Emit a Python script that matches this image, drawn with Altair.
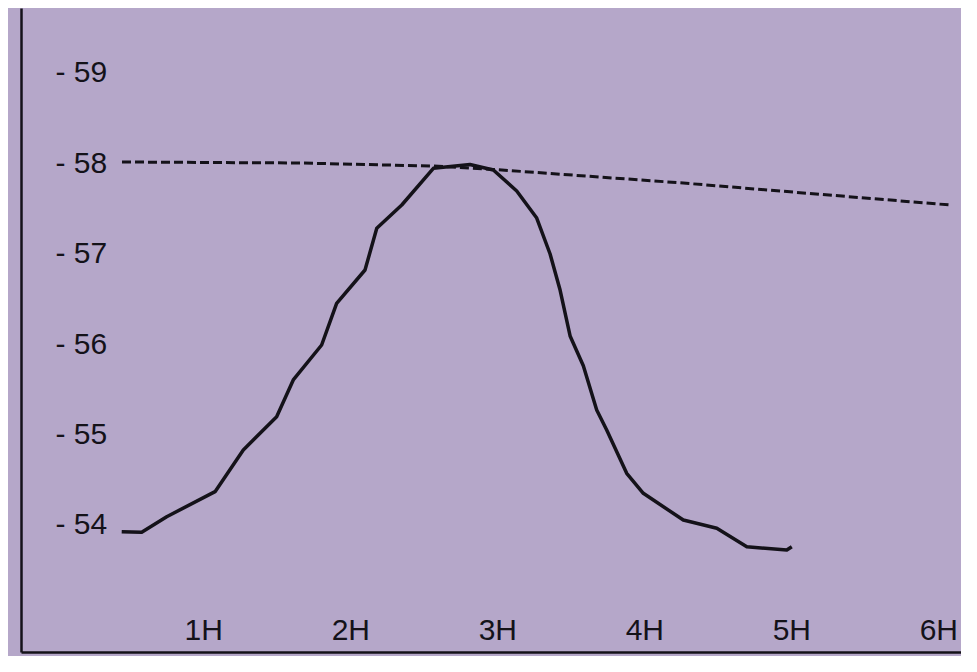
import altair as alt
import pandas as pd

# Solid curve (hours, value)
curve_h = [0.445, 0.581, 0.751, 1.080, 1.272, 1.499, 1.612, 1.805, 1.907, 2.100,
           2.180, 2.350, 2.565, 2.814, 2.973, 3.132, 3.268, 3.359, 3.427, 3.495,
           3.585, 3.676, 3.744, 3.880, 3.993, 4.265, 4.493, 4.697, 4.969, 5.003]
curve_v = [53.924, 53.917, 54.090, 54.367, 54.828, 55.196, 55.603, 55.990, 56.451, 56.820,
           57.281, 57.539, 57.945, 57.987, 57.926, 57.694, 57.395, 56.997, 56.598, 56.090,
           55.760, 55.271, 55.049, 54.570, 54.349, 54.053, 53.962, 53.758, 53.721, 53.758]

# Dashed reference line
ref_h = [0.447, 1.658, 2.563, 2.973, 4.265, 6.081]
ref_v = [58.015, 58.004, 57.970, 57.933, 57.782, 57.539]

x_ticks = [1, 2, 3, 4, 5, 6]
y_ticks = [54, 55, 56, 57, 58, 59]

curve = pd.DataFrame({"h": curve_h, "v": curve_v, "o": range(len(curve_h))})
ref = pd.DataFrame({"h": ref_h, "v": ref_v, "o": range(len(ref_h))})

ink = "#141219"
FONT = "Liberation Sans"

xs = alt.Scale(domain=[-0.240, 6.154], nice=False, zero=False)
ys = alt.Scale(domain=[52.593, 59.719], nice=False, zero=False)

x_axis = alt.Axis(values=x_ticks, labelExpr="datum.value + 'H'", title=None,
                  ticks=False, grid=False, domainColor=ink, domainWidth=2.5,
                  labelPadding=-7, labelBaseline="bottom", labelFont=FONT,
                  labelFontSize=30, labelColor=ink)
y_axis = alt.Axis(values=y_ticks, labelExpr="'- ' + datum.value", title=None,
                  ticks=False, grid=False, domainColor=ink, domainWidth=2.5,
                  labelAlign="left", labelPadding=-34, labelFont=FONT,
                  labelFontSize=30, labelColor=ink)

solid = alt.Chart(curve).mark_line(color=ink, strokeWidth=3.5, strokeJoin="round").encode(
    x=alt.X("h:Q", scale=xs, axis=x_axis),
    y=alt.Y("v:Q", scale=ys, axis=y_axis),
    order="o:Q",
)

dashed = alt.Chart(ref).mark_line(color=ink, strokeWidth=3, strokeDash=[9, 4]).encode(
    x=alt.X("h:Q", scale=xs),
    y=alt.Y("v:Q", scale=ys),
    order="o:Q",
)

chart = alt.layer(solid, dashed).properties(
    width=940, height=644,
    padding={"left": 13, "top": 0, "right": 0, "bottom": 4},
    autosize="none",
    background="#b5a7c9",
).configure_view(stroke=None)

chart.save("out.html", embed_options={"renderer": "svg", "actions": False})
